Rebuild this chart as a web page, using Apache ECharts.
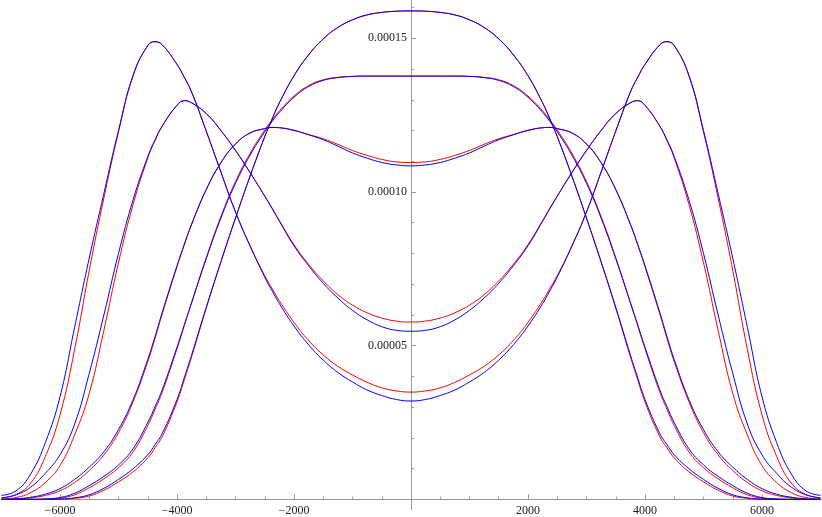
<!DOCTYPE html>
<html><head><meta charset="utf-8">
<script src="https://cdn.jsdelivr.net/npm/echarts@6/dist/echarts.min.js"></script>
<style>html,body{margin:0;padding:0;background:#fff}#c{width:822px;height:517px}</style>
</head><body><div id="c"></div>
<script>
// x positions
const xs = [-7000,-6750,-6500,-6250,-6000,-5750,-5500,-5250,-5000,-4750,-4500,-4375,-4250,-4000,-3875,-3750,-3500,-3250,-3000,-2750,-2500,-2375,-2250,-2000,-1750,-1500,-1250,-1000,-750,-500,-250,0,
 250,500,750,1000,1250,1500,1750,2000,2250,2375,2500,2750,3000,3250,3500,3750,3875,4000,4250,4375,4500,4750,5000,5250,5500,5750,6000,6250,6500,6750,7000];
// values in units of 1e-6
const c1Red = [0,0,0,0,0.05,0.35,1.1,3.0,5.7,9.0,13.5,16.8,20.5,31.7,38.9,46.4,62.2,77.2,91.5,105.2,118.0,123.7,129.0,137.8,144.6,149.8,153.5,156.0,157.6,158.4,158.8,158.9,
 158.8,158.4,157.6,156.0,153.5,149.8,144.6,137.8,129.0,123.7,118.0,105.2,91.5,77.2,62.2,46.4,38.9,31.7,20.5,16.8,13.5,9.0,5.7,3.0,1.1,0.35,0.05,0,0,0,0];
const c1Blue = [0,0,0,0,0.1,0.5,1.5,3.6,6.5,10.0,14.5,17.8,21.5,32.5,39.6,47.0,62.5,77.3,91.5,105.2,118.0,123.7,129.0,137.8,144.6,149.8,153.5,156.0,157.6,158.4,158.8,158.9,
 158.8,158.4,157.6,156.0,153.5,149.8,144.6,137.8,129.0,123.7,118.0,105.2,91.5,77.3,62.5,47.0,39.6,32.5,21.5,17.8,14.5,10.0,6.5,3.6,1.5,0.5,0.1,0,0,0,0];
const c2Red = [0,0,0,0.1,0.4,1.5,3.8,6.7,10.3,15.5,24.0,29.3,35.0,49.0,56.5,64.0,78.6,92.0,103.4,112.6,120.2,123.4,126.4,131.2,134.6,136.5,137.3,137.6,137.7,137.7,137.7,137.7,
 137.7,137.7,137.7,137.6,137.3,136.5,134.6,131.2,126.4,123.4,120.2,112.6,103.4,92.0,78.6,64.0,56.5,49.0,35.0,29.3,24.0,15.5,10.3,6.7,3.8,1.5,0.4,0.1,0,0,0];
const c2Blue = [0,0,0,0.15,0.6,2.0,4.5,7.5,11.2,16.5,25.0,30.2,35.8,49.5,56.8,64.0,78.3,91.5,102.8,112.0,119.6,122.9,125.9,130.8,134.3,136.3,137.2,137.6,137.7,137.7,137.7,137.7,
 137.7,137.7,137.7,137.6,137.2,136.3,134.3,130.8,125.9,122.9,119.6,112.0,102.8,91.5,78.3,64.0,56.8,49.5,35.8,30.2,25.0,16.5,11.2,7.5,4.5,2.0,0.6,0.15,0,0,0];
const c3Red = [0,0.1,0.5,1.3,2.8,5.5,9.4,14.5,21.7,31.8,44.8,52.4,60.5,75.7,82.8,89.5,100.8,109.5,115.6,119.2,120.6,121.0,120.9,120.1,118.7,117.3,115.5,113.5,111.9,110.6,109.8,109.6,
 109.8,110.6,111.9,113.5,115.5,117.3,118.7,120.1,120.9,121.0,120.6,119.2,115.6,109.5,100.8,89.5,82.8,75.7,60.5,52.4,44.8,31.8,21.7,14.5,9.4,5.5,2.8,1.3,0.5,0.1,0];
const c3Blue = [0,0.2,0.7,1.7,3.5,6.5,10.5,15.5,22.7,32.5,45.5,53.0,61.0,76.0,83.0,89.5,100.8,109.5,115.6,119.2,120.6,121.0,120.9,120.0,118.6,117.0,114.9,112.7,111.0,109.6,108.8,108.5,
 108.8,109.6,111.0,112.7,114.9,117.0,118.6,120.0,120.9,121.0,120.6,119.2,115.6,109.5,100.8,89.5,83.0,76.0,61.0,53.0,45.5,32.5,22.7,15.5,10.5,6.5,3.5,1.7,0.7,0.2,0];
const c4Red = [0.1,0.6,2.2,5.5,11.0,21.0,34.5,55.0,77.0,96.0,111.0,116.7,121.5,128.2,129.7,129.0,125.5,120.0,113.5,106.3,98.7,94.8,90.7,82.9,76.5,71.1,66.6,63.2,60.7,59.0,58.0,57.7,
 58.0,59.0,60.7,63.2,66.6,71.1,76.5,82.9,90.7,94.8,98.7,106.3,113.5,120.0,125.5,129.0,129.7,128.2,121.5,116.7,111.0,96.0,77.0,55.0,34.5,21.0,11.0,5.5,2.2,0.6,0.1];
const c4Blue = [0.5,1.5,4.0,8.5,14.5,24.5,41.0,60.0,80.0,97.5,111.5,117.0,121.5,128.2,129.7,129.0,125.5,120.0,113.5,106.3,98.6,94.6,90.5,82.5,76.0,70.3,65.5,61.5,58.4,56.2,55.0,54.7,
 55.0,56.2,58.4,61.5,65.5,70.3,76.0,82.5,90.5,94.6,98.6,106.3,113.5,120.0,125.5,129.0,129.7,128.2,121.5,117.0,111.5,97.5,80.0,60.0,41.0,24.5,14.5,8.5,4.0,1.5,0.5];
const c5Red = [0.5,1.6,5.3,14.0,27.5,48.8,74.5,98.0,119.5,137.8,147.6,148.9,147.8,141.5,137.3,132.5,119.8,106.5,93.5,82.4,72.8,68.6,64.6,57.6,51.7,47.0,43.3,40.5,38.1,36.3,35.3,34.9,
 35.3,36.3,38.1,40.5,43.3,47.0,51.7,57.6,64.6,68.6,72.8,82.4,93.5,106.5,119.8,132.5,137.3,141.5,147.8,148.9,147.6,137.8,119.5,98.0,74.5,48.8,27.5,14.0,5.3,1.6,0.5];
const c5Blue = [1.3,2.8,8.3,18.5,33.4,56.0,78.5,99.5,120.0,138.0,147.6,148.9,147.8,141.5,137.3,132.5,119.8,106.5,93.5,82.4,72.3,67.9,63.7,56.4,50.3,45.3,41.3,38.2,35.6,33.8,32.5,32.0,
 32.5,33.8,35.6,38.2,41.3,45.3,50.3,56.4,63.7,67.9,72.3,82.4,93.5,106.5,119.8,132.5,137.3,141.5,147.8,148.9,147.6,138.0,120.0,99.5,78.5,56.0,33.4,18.5,8.3,2.8,1.3];

// ticks
const xMajorTicks = [-6000,-4000,-2000,2000,4000,6000];
const xMinorTicks = [-6500,-5500,-5000,-4500,-3500,-3000,-2500,-1500,-1000,-500,500,1000,1500,2500,3000,3500,4500,5000,5500,6500];
const yMajorTicks = [0.00005,0.0001,0.00015];
const yMinorTicks = [0.00001,0.00002,0.00003,0.00004,0.00006,0.00007,0.00008,0.00009,0.00011,0.00012,0.00013,0.00014,0.00016];

const UNIT = 1e-6;
const X_MIN = -7000, X_MAX = 7000, Y_MIN = -3.29e-6, Y_MAX = 1.6245e-4;
const AXIS_COLOR = '#999999';
const FONT = {fontFamily:'Liberation Serif', fontSize:12, color:'#222'};
const X_AXIS_OFFSET = -10.1;   // x-axis drawn at y = 0
const Y_AXIS_OFFSET = -409.5;  // y-axis drawn at x = 0

const redSeries = [c1Red,c2Red,c3Red,c4Red,c5Red];
const blueSeries = [c1Blue,c2Blue,c3Blue,c4Blue,c5Blue];
function mk(arr, color, z){
  return {type:'line', data: xs.map((x,i)=>[x, arr[i]*UNIT]), showSymbol:false, smooth:0.45,
    lineStyle:{color, width:1}, silent:true, clip:true, z};
}
const series = [...redSeries.map(a=>mk(a,'#ff0000',2)), ...blueSeries.map(a=>mk(a,'#0000ff',3))];

function fmtX(v){ return v<0 ? '\u2212'+Math.abs(v) : String(v); }
const chart = echarts.init(document.getElementById('c'), null, {renderer:'canvas'});
const xBase = {type:'value',min:X_MIN,max:X_MAX,position:'bottom',offset:X_AXIS_OFFSET,splitLine:{show:false}};
const yBase = {type:'value',min:Y_MIN,max:Y_MAX,position:'left',offset:Y_AXIS_OFFSET,splitLine:{show:false}};
chart.setOption({
  animation:false,
  backgroundColor:'#fff',
  grid:{left:1.5,right:1.5,top:0,bottom:7.5,containLabel:false,outerBoundsMode:'none'},
  xAxis:[
    {...xBase,
     axisLine:{show:true,onZero:false,lineStyle:{color:AXIS_COLOR,width:1}},
     axisTick:{show:true,inside:true,length:5,customValues:xMajorTicks,lineStyle:{color:AXIS_COLOR}},
     axisLabel:{show:true,customValues:xMajorTicks,formatter:fmtX,margin:5,...FONT}},
    {...xBase,
     axisLine:{show:false,onZero:false},
     axisTick:{show:true,inside:true,length:3,customValues:xMinorTicks,lineStyle:{color:AXIS_COLOR}},
     axisLabel:{show:false}}
  ],
  yAxis:[
    {...yBase,
     axisLine:{show:true,onZero:false,lineStyle:{color:AXIS_COLOR,width:1}},
     axisTick:{show:true,inside:true,length:5,customValues:yMajorTicks,lineStyle:{color:AXIS_COLOR}},
     axisLabel:{show:true,customValues:yMajorTicks,formatter:v=>v.toFixed(5),margin:4,...FONT}},
    {...yBase,
     axisLine:{show:false,onZero:false},
     axisTick:{show:true,inside:true,length:3,customValues:yMinorTicks,lineStyle:{color:AXIS_COLOR}},
     axisLabel:{show:false}}
  ],
  series
});
</script></body></html>
